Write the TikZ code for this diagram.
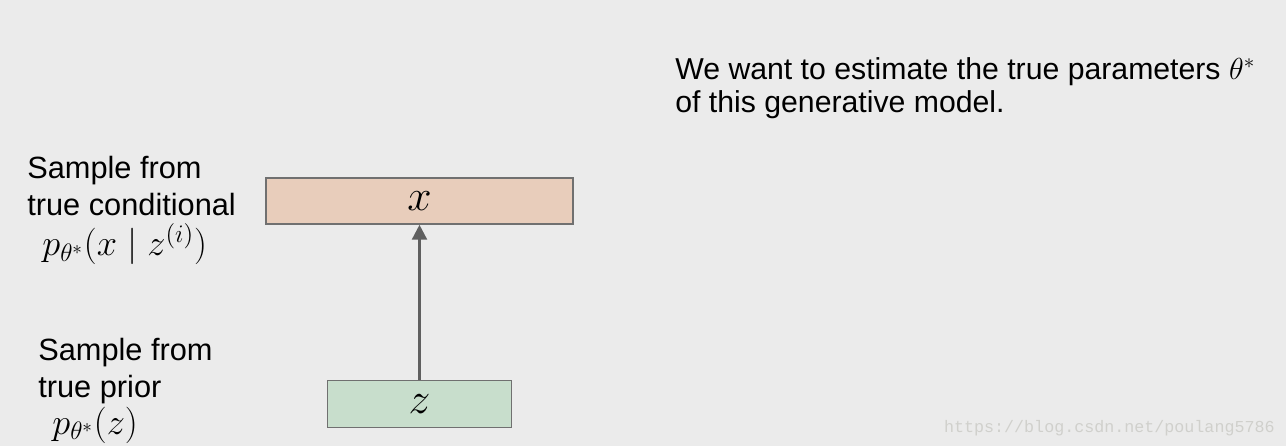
\documentclass[tikz,border=0pt]{standalone}
\usepackage{fontspec}
\setmainfont{Liberation Sans}
\setmonofont{Liberation Mono}
\usepackage{amsmath}
\usetikzlibrary{arrows.meta,positioning}
\definecolor{bgGray}{RGB}{235,235,235}
\definecolor{xFill}{RGB}{232,205,187}
\definecolor{zFill}{RGB}{200,222,204}
\definecolor{edgeGray}{RGB}{112,112,112}
\definecolor{arrowGray}{RGB}{95,95,95}
\definecolor{markGray}{RGB}{208,208,204}
\tikzstyle{varbox}=[draw=edgeGray,line width=0.9pt,inner sep=0,font=\fontsize{28}{32}\selectfont]
\tikzstyle{sampler}=[->,>={Triangle[width=8.5pt,length=8.5pt]},draw=arrowGray,line width=1.4pt]
\tikzstyle{lbl}=[align=left,anchor=north west,inner sep=0,font=\fontsize{17.5}{21}\selectfont]
\newcommand{\distr}[1]{{\fontsize{21}{24}\selectfont$#1$}}
\begin{document}
\begin{tikzpicture}[x=0.02cm,y=-0.02cm]
  \fill[bgGray] (0,0) rectangle (1286,446);
  \node[varbox,fill=xFill,minimum width=6.14cm,minimum height=0.92cm] (x) at (419.5,201) {$x$};
  \node[varbox,fill=zFill,minimum width=3.68cm,minimum height=0.94cm,below=3.1cm of x] (z) {$z$};
  \draw[sampler] (z) -- (x);
  \node[lbl] (condlbl) at (27,156) {Sample from\\true conditional\\[2pt]\hspace*{0.3cm}\distr{p_{\theta^*}(x\mid z^{(i)})}};
  \node[lbl] (priorlbl) at (38,338) {Sample from\\true prior\\[0pt]\hspace*{0.28cm}\distr{p_{\theta^*}(z)}};
  \node[lbl,font=\fontsize{17.2}{21}\selectfont] (goal) at (675,57) {We want to estimate the true parameters $\theta^*$\\[-2pt]of this generative model.};
  \node[anchor=base east,font=\ttfamily\fontsize{9.5}{11}\selectfont,text=markGray,inner sep=0] (mark) at (1275,432) {https://blog.csdn.net/poulang5786};
\end{tikzpicture}
\end{document}
